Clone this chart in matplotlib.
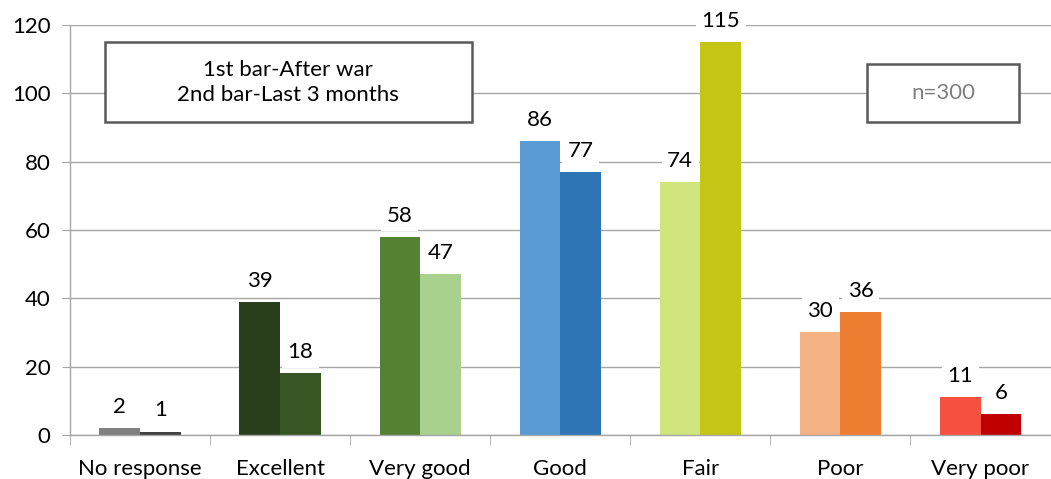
import matplotlib.pyplot as plt
import numpy as np

categories = ['No response', 'Excellent', 'Very good', 'Good', 'Fair', 'Poor', 'Very poor']
after_war = [2, 39, 58, 86, 74, 30, 11]
last_3_months = [1, 18, 47, 77, 115, 36, 6]

colors_first = ['#808080', '#2a401c', '#548235', '#5b9bd5', '#d0e57e', '#f4b183', '#f55040']
colors_second = ['#404040', '#375623', '#a9d18e', '#2e75b6', '#c4c514', '#ed7d31', '#c00000']

plt.rcParams['font.family'] = ['Lato', 'DejaVu Sans']
plt.rcParams['font.size'] = 16

fig = plt.figure(figsize=(10.51, 4.79), dpi=100)
ax = fig.add_axes([0.0666, 0.0919, 0.933, 0.856])

x = np.arange(len(categories))
w = 0.29
grid_c = '#a6a6a6'

for xi, v1, v2, c1, c2 in zip(x, after_war, last_3_months, colors_first, colors_second):
    ax.bar(xi - w / 2, v1, w, color=c1, zorder=2)
    ax.bar(xi + w / 2, v2, w, color=c2, zorder=2)
    for xx, v in ((xi - w / 2, v1), (xi + w / 2, v2)):
        ax.annotate(str(v), (xx, v), xytext=(0, 8), textcoords='offset points',
                    ha='center', va='bottom', fontsize=16, color='black', zorder=4,
                    bbox=dict(boxstyle='square,pad=0.25', fc='white', ec='none'))

ax.set_xlim(-0.5, len(categories) - 0.5)
ax.set_ylim(0, 120)
ax.set_yticks(range(0, 121, 20))
ax.yaxis.grid(True, color=grid_c, linewidth=1.0, zorder=0)
ax.set_axisbelow(True)

ax.set_xticks(x)
ax.set_xticklabels(categories)
ax.set_xticks(np.arange(-0.5, len(categories)), minor=True)
ax.tick_params(axis='x', which='major', length=0, pad=17)
ax.tick_params(axis='x', which='minor', length=7, color=grid_c, direction='out')
ax.tick_params(axis='y', length=6, color=grid_c, pad=8)

for side in ('top', 'right'):
    ax.spines[side].set_visible(False)
for side in ('left', 'bottom'):
    ax.spines[side].set_color(grid_c)
    ax.spines[side].set_linewidth(1.0)

# legend-style note boxes
ax.add_patch(plt.Rectangle((0.0357, 0.763), 0.374, 0.195, transform=ax.transAxes,
                           fc='white', ec='#595959', lw=1.8, zorder=5))
ax.text(0.2227, 0.86, '1st bar-After war\n2nd bar-Last 3 months', transform=ax.transAxes,
        ha='center', va='center', fontsize=16, linespacing=1.3, zorder=6)
ax.add_patch(plt.Rectangle((0.813, 0.763), 0.155, 0.141, transform=ax.transAxes,
                           fc='white', ec='#595959', lw=1.8, zorder=5))
ax.text(0.8905, 0.834, 'n=300', transform=ax.transAxes,
        ha='center', va='center', fontsize=16, color='#7f7f7f', zorder=6)

fig.savefig('out.png', dpi=100)
